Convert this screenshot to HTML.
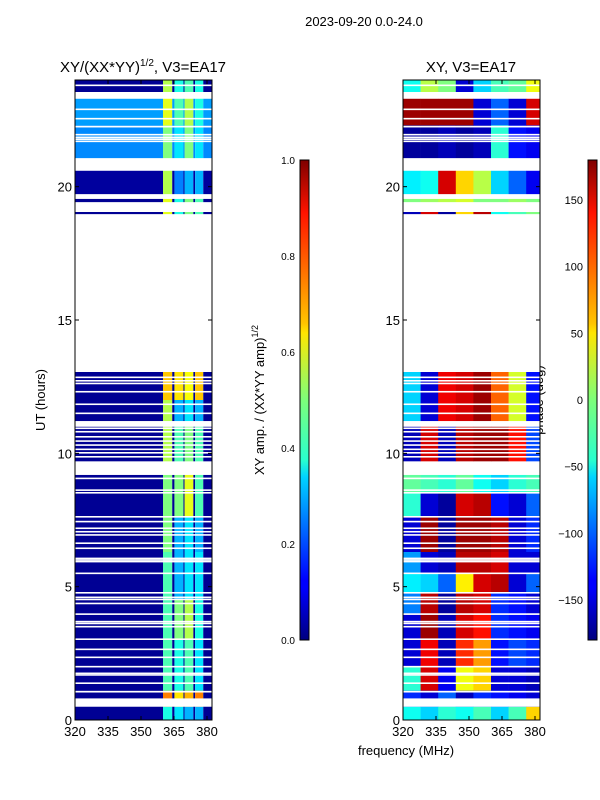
<!DOCTYPE html>
<html><head><meta charset="utf-8"><style>
body{margin:0;background:#fff;}
svg{display:block;font-family:"Liberation Sans","DejaVu Sans",sans-serif;}
</style></head><body>
<svg id="fig" width="600" height="800" viewBox="0 0 600 800" xmlns="http://www.w3.org/2000/svg">
<defs>
<linearGradient id="jet" x1="0" y1="1" x2="0" y2="0">
<stop offset="0" stop-color="#00007f"/><stop offset="0.11" stop-color="#0000ff"/><stop offset="0.125" stop-color="#0000ff"/>
<stop offset="0.34" stop-color="#00d4ff"/><stop offset="0.375" stop-color="#29ffce"/><stop offset="0.5" stop-color="#7dff7a"/>
<stop offset="0.64" stop-color="#ffe600"/><stop offset="0.66" stop-color="#ffc400"/><stop offset="0.89" stop-color="#ff1300"/><stop offset="1" stop-color="#7f0000"/>
</linearGradient>
</defs>
<text x="364" y="26" font-size="13" text-anchor="middle">2023-09-20 0.0-24.0</text>
<text x="143" y="72" font-size="15" text-anchor="middle">XY/(XX*YY)<tspan font-size="10" dy="-6">1/2</tspan><tspan dy="6">, V3=EA17</tspan></text>
<text x="471" y="72" font-size="15" text-anchor="middle">XY, V3=EA17</text>
<text font-size="13" text-anchor="middle" transform="translate(45,400) rotate(-90)">UT (hours)</text>
<text x="406" y="755" font-size="13" text-anchor="middle">frequency (MHz)</text>
<text font-size="13" text-anchor="middle" transform="translate(264,400) rotate(-90)">XY amp. / (XX*YY amp)<tspan font-size="9" dy="-6">1/2</tspan></text>
<text font-size="13" text-anchor="middle" transform="translate(543,400) rotate(-90)">phase (deg)</text>
<g id="left"></g>
<g id="right"></g>
<g id="axes"></g>
<rect x="300" y="160" width="9" height="480" fill="url(#jet)" stroke="#000" stroke-width="1"/>
<rect x="588" y="160" width="9" height="480" fill="url(#jet)" stroke="#000" stroke-width="1"/>
</svg>
<script>
// ---- data ----
const freqEdges = [320,328,336,344,352,360,368,376,383];
const ampColEdges = [320,360,364.2,365.2,369.3,369.8,373.8,374.6,378.3,383];
// left amplitude blocks: [tStart, tEnd, background, col1, col2, col3, col4]
const ampBlocks = [
 [0,0.5,0.02,0.4,0.35,0.3,0.3],[0.5,1.1,0.02,0.75,0.65,0.7,0.75],[1.1,3.0,0.02,0.45,0.4,0.45,0.35],
 [3.0,4.5,0.02,0.45,0.5,0.55,0.4],[4.5,6.3,0.02,0.45,0.3,0.35,0.35],[6.3,7.6,0.02,0.5,0.3,0.35,0.3],
 [7.6,9.2,0.02,0.5,0.5,0.6,0.45],[9.7,11.0,0.02,0.55,0.45,0.5,0.45],[11.2,12.0,0.02,0.55,0.3,0.35,0.3],
 [12.0,13.05,0.02,0.68,0.65,0.62,0.68],[18.9,19.6,0.02,0.6,0.4,0.5,0.45],[19.7,20.6,0.03,0.55,0.25,0.3,0.3],
 [21.0,22.3,0.26,0.5,0.35,0.5,0.35],[22.3,23.3,0.28,0.6,0.45,0.55,0.4],[23.55,24,0.02,0.55,0.4,0.45,0.4]
];
// right phase blocks: [tStart, tEnd, phases per freq column (deg)]
const phaseBlocks = [
 [0,0.5,[-40,-60,-30,-40,-20,-60,-20,60]],
 [0.5,1.1,[-120,-150,-100,-160,-120,-130,-140,-150]],
 [1.1,2.0,[-30,150,-140,40,60,-150,-150,-160]],
 [2.0,3.0,[-150,140,-160,120,80,-130,-110,-120]],
 [3.0,4.0,[-150,170,-160,150,130,-120,-130,-140]],
 [4.0,4.8,[-90,160,-170,160,150,-120,-130,-150]],
 [4.8,5.5,[-50,-60,-100,50,150,160,-150,-100]],
 [5.5,6.3,[-80,-150,-160,160,160,150,-150,-150]],
 [6.3,7.6,[-150,170,-170,170,170,160,-150,-120]],
 [7.6,8.5,[-30,-150,-170,150,160,-130,-150,-100]],
 [8.5,9.2,[-10,-20,-30,-10,-40,-60,-30,-20]],
 [9.7,11.0,[-160,150,-160,160,170,170,130,-110]],
 [11.2,13.05,[-60,-150,140,150,170,100,30,-130]],
 [18.9,19.1,[-160,150,-170,60,160,-40,-20,0]],
 [19.4,19.6,[0,10,20,30,0,0,10,0]],
 [19.7,20.6,[-50,-40,150,60,20,-60,-100,-140]],
 [21.0,22.3,[-170,-170,-160,-170,-160,-30,-130,-140]],
 [22.3,23.3,[170,170,170,170,-150,-100,-150,150]],
 [23.55,24,[-40,20,0,-150,-60,-20,-10,40]]
];
const gaps = [[0.5,0.81],[9.19,9.69],[11.0,11.21],[13.05,18.97],[19.05,19.42],[19.54,19.72],[20.6,21.07],[23.3,23.55]];
const thinGaps = [12.85,12.72,12.62,12.31,11.84,11.5,10.94,10.81,10.62,10.46,10.31,10.15,10.02,9.87,9.06,8.62,8.52,7.62,7.44,7.19,7.06,6.94,6.63,6.44,6.06,6.0,5.94,5.5,4.77,4.6,4.52,4.37,3.97,3.69,3.62,3.5,3.03,2.65,2.35,2.0,1.75,1.69,1.38,1.06,23.8,22.55,22.25,21.95,21.85,21.78,21.7,22.9];
const yTicks = [0,5,10,15,20];
const xTicks = [320,335,350,365,380];
const ampTicks = [0.0,0.2,0.4,0.6,0.8,1.0];
const phaseTicks = [-150,-100,-50,0,50,100,150];

// ---- layout ----
const NS='http://www.w3.org/2000/svg';
const panels=[{x0:75,id:'left'},{x0:403,id:'right'}];
const PW=137, PT=80, PB=720;
const yOf=h=>PB-(h/24)*(PB-PT);
const xOf=(x0,f)=>x0+(f-320)*2.2;
function jet(v){v=Math.max(0,Math.min(1,v));
 const r=Math.max(0,Math.min(1,1.5-Math.abs(4*v-3))),g=Math.max(0,Math.min(1,1.5-Math.abs(4*v-2))),b=Math.max(0,Math.min(1,1.5-Math.abs(4*v-1)));
 return `rgb(${Math.round(r*255)},${Math.round(g*255)},${Math.round(b*255)})`;}
function mk(tag,attrs,parent){const e=document.createElementNS(NS,tag);for(const k in attrs)e.setAttribute(k,attrs[k]);parent.appendChild(e);return e;}
const L=document.getElementById('left'),R=document.getElementById('right'),A=document.getElementById('axes');

ampBlocks.forEach(b=>{
 const vals=[b[2],b[3],b[2],b[4],b[2],b[5],b[2],b[6],b[2]];
 for(let i=0;i<vals.length;i++){
  const x1=xOf(75,ampColEdges[i]),x2=Math.min(xOf(75,ampColEdges[i+1]),212);
  const r=mk('rect',{x:x1,y:yOf(b[1]),width:x2-x1,height:yOf(b[0])-yOf(b[1]),fill:jet(vals[i])},L);
  
  
 }
});
phaseBlocks.forEach(b=>{
 b[2].forEach((p,i)=>{
  const x1=xOf(403,freqEdges[i]),x2=Math.min(xOf(403,freqEdges[i+1]),540);
  const r=mk('rect',{x:x1,y:yOf(b[1]),width:x2-x1+0.3,height:yOf(b[0])-yOf(b[1]),fill:jet((p+180)/360)},R);
  
  
 });
});
panels.forEach(p=>{
 const g=document.getElementById(p.id);
 gaps.forEach(gp=>{const r=mk('rect',{x:p.x0,y:yOf(gp[1]),width:PW,height:yOf(gp[0])-yOf(gp[1]),fill:'#fff'},g);
  });
 thinGaps.forEach(h=>{const r=mk('rect',{x:p.x0,y:yOf(h)-0.8,width:PW,height:1.6,fill:'#fff'},g);
  });
 const fr=mk('rect',{x:p.x0,y:PT,width:PW,height:PB-PT,fill:'none',stroke:'#000','stroke-width':1},A);
 
 yTicks.forEach(t=>{const y=yOf(t);
  mk('line',{x1:p.x0,x2:p.x0+4,y1:y,y2:y,stroke:'#000'},A);mk('line',{x1:p.x0+PW,x2:p.x0+PW-4,y1:y,y2:y,stroke:'#000'},A);
  const tx=mk('text',{x:p.x0-3,y:y+5,'font-size':13,'text-anchor':'end'},A);tx.textContent=t;
  });
 xTicks.forEach(t=>{const x=xOf(p.x0,t);
  mk('line',{x1:x,x2:x,y1:PB,y2:PB-4,stroke:'#000'},A);mk('line',{x1:x,x2:x,y1:PT,y2:PT+4,stroke:'#000'},A);
  const tx=mk('text',{x:x,y:PB+16,'font-size':13,'text-anchor':'middle'},A);tx.textContent=t;
  });
});
ampTicks.forEach(t=>{const y=640-t*480;
 mk('line',{x1:305,x2:309,y1:y,y2:y,stroke:'#000'},A);
 const tx=mk('text',{x:295,y:y+4,'font-size':10,'text-anchor':'end'},A);tx.textContent=t.toFixed(1);
 });
phaseTicks.forEach(t=>{const y=640-(t+180)/360*480;
 mk('line',{x1:593,x2:597,y1:y,y2:y,stroke:'#000'},A);
 const tx=mk('text',{x:583,y:y+4,'font-size':11,'text-anchor':'end'},A);tx.textContent=t<0?'\u2212'+(-t):t;
 });
</script>
</body></html>
